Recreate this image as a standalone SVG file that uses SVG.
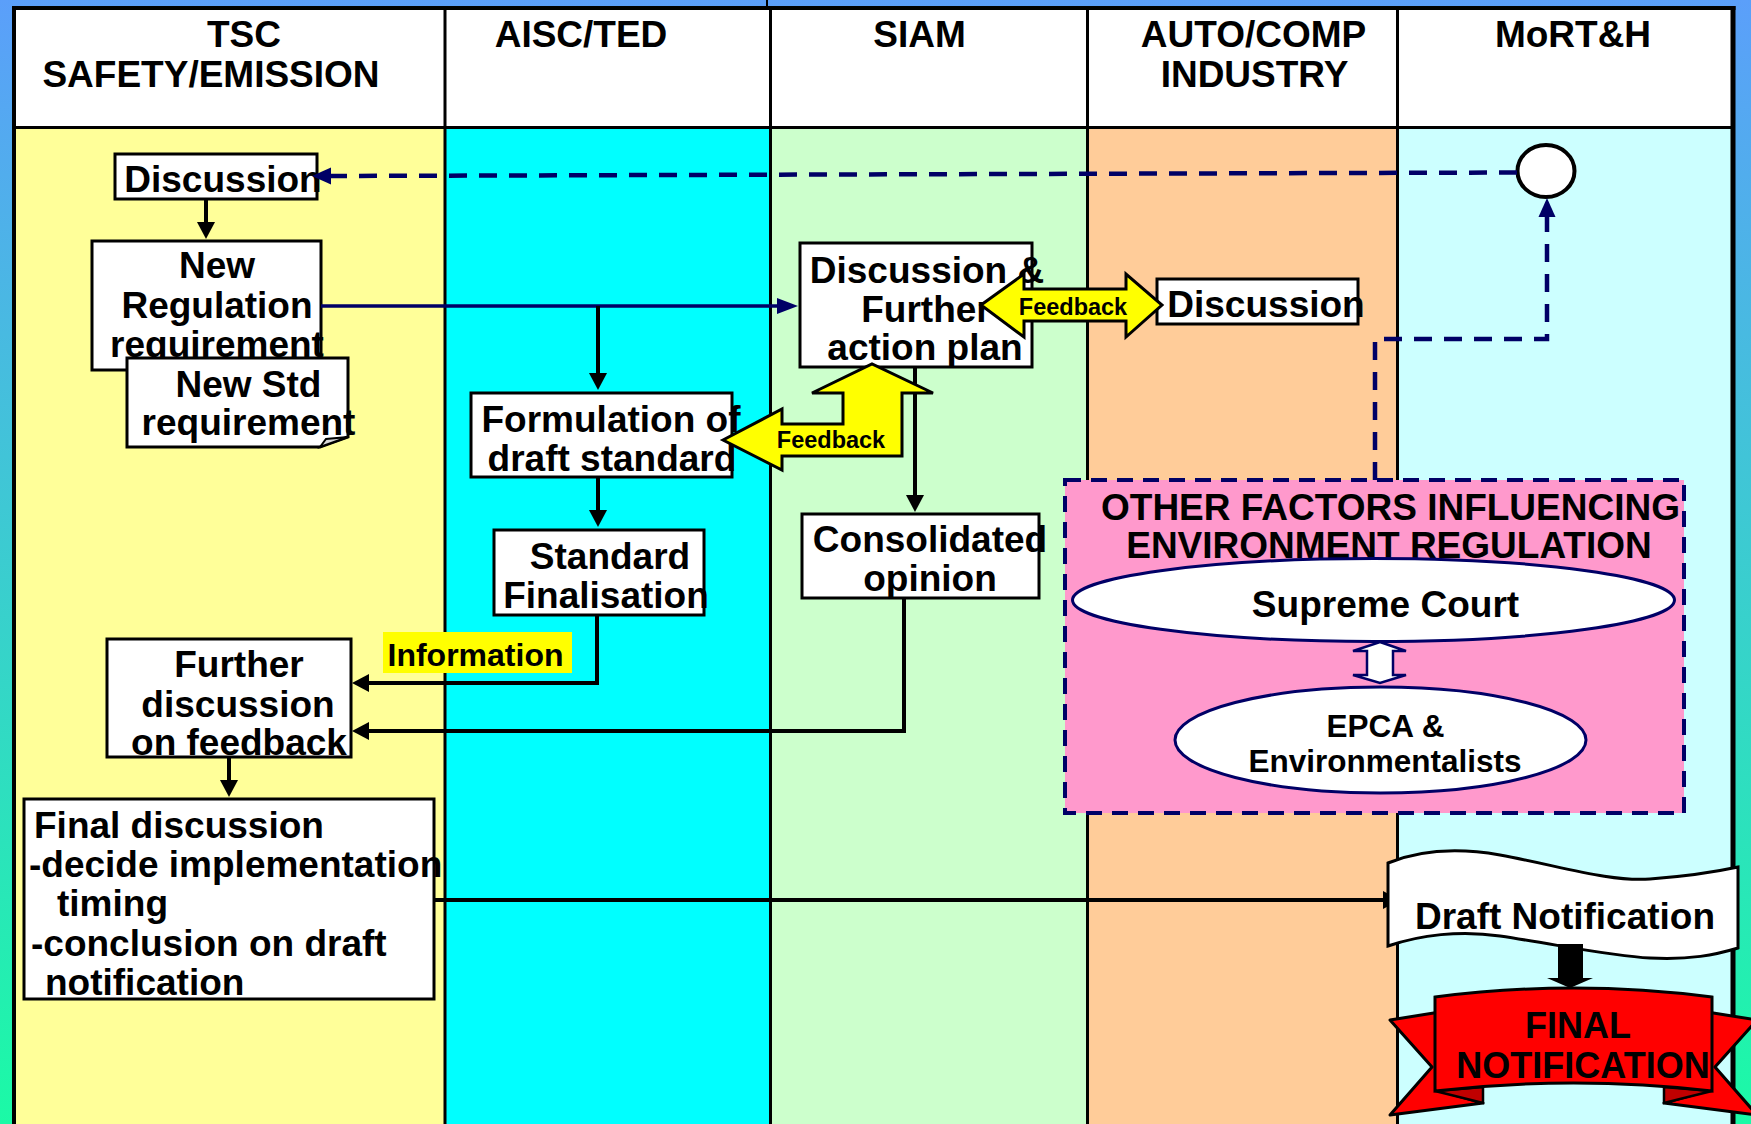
<svg xmlns="http://www.w3.org/2000/svg" width="1751" height="1124" viewBox="0 0 1751 1124">
<defs>
<linearGradient id="bg" x1="0" y1="0" x2="0" y2="1">
<stop offset="0" stop-color="#5b9ffa"/>
<stop offset="1" stop-color="#1bfaa6"/>
</linearGradient>
<marker id="ah" markerUnits="userSpaceOnUse" markerWidth="17" markerHeight="18" refX="0" refY="9" orient="auto" overflow="visible"><path d="M0,0 L17,9 L0,18 Z" fill="#000"/></marker>
<marker id="ahn" markerUnits="userSpaceOnUse" markerWidth="21" markerHeight="16" refX="0" refY="8" orient="auto" overflow="visible"><path d="M0,0 L21,8 L0,16 Z" fill="#000066"/></marker>
<marker id="ahd" markerUnits="userSpaceOnUse" markerWidth="19" markerHeight="17" refX="0" refY="8.5" orient="auto" overflow="visible"><path d="M0,0 L19,8.5 L0,17 Z" fill="#000066"/></marker>
<style>
.t{font-family:"Liberation Sans",Arial,Helvetica,sans-serif;font-weight:bold;font-size:37px;fill:#000;text-anchor:middle}
.l{text-anchor:start}
.fb{font-size:23.5px}
.box{fill:#fff;stroke:#000;stroke-width:3}
.conn{fill:none;stroke:#000;stroke-width:4}
.nav{fill:none;stroke:#000066;stroke-width:3.5}
.dash{fill:none;stroke:#000066;stroke-width:4.5;stroke-dasharray:18 12}
.ya{fill:#ffff00;stroke:#000;stroke-width:3;stroke-linejoin:miter}
.div{stroke:#000;stroke-width:3}
</style>
</defs>

<rect x="0" y="0" width="1751" height="1124" fill="url(#bg)"/>
<line x1="767" y1="0" x2="767" y2="7" stroke="#000" stroke-width="2"/>

<g id="lanes">
<rect x="14" y="8" width="1719" height="120" fill="#fff"/>
<rect x="14" y="127" width="431" height="997" fill="#ffff99"/>
<rect x="445" y="127" width="325.5" height="997" fill="#00ffff"/>
<rect x="770.5" y="127" width="317" height="997" fill="#ccffcc"/>
<rect x="1087.5" y="127" width="310" height="997" fill="#ffcc99"/>
<rect x="1397.5" y="127" width="335.5" height="997" fill="#ccffff"/>
<line class="div" x1="14" y1="127.5" x2="1733" y2="127.5"/>
<line class="div" x1="445" y1="8" x2="445" y2="1124"/>
<line class="div" x1="770.5" y1="8" x2="770.5" y2="1124"/>
<line class="div" x1="1087.5" y1="8" x2="1087.5" y2="1124"/>
<line class="div" x1="1397.5" y1="8" x2="1397.5" y2="1124"/>
<line x1="12" y1="8" x2="1735.5" y2="8" stroke="#000" stroke-width="4"/>
<line x1="14" y1="6" x2="14" y2="1124" stroke="#000" stroke-width="4"/>
<line x1="1733" y1="6" x2="1733" y2="1124" stroke="#000" stroke-width="5"/>
</g>

<g id="header">
<text class="t" x="244" y="47">TSC</text>
<text class="t" x="211" y="87">SAFETY/EMISSION</text>
<text class="t" x="581" y="47">AISC/TED</text>
<text class="t" x="919.5" y="47">SIAM</text>
<text class="t" x="1253.5" y="47">AUTO/COMP</text>
<text class="t" x="1254.5" y="87">INDUSTRY</text>
<text class="t" x="1573" y="47">MoRT&amp;H</text>
</g>

<g id="other-factors">
<rect x="1065" y="480" width="619" height="333" fill="#ff99cc" stroke="#000066" stroke-width="4" stroke-dasharray="16 10"/>
<text class="t" x="1390.5" y="520">OTHER FACTORS INFLUENCING</text>
<text class="t" x="1389" y="558">ENVIRONMENT REGULATION</text>
</g>
<g id="supreme-court">
<ellipse cx="1373.5" cy="600" rx="301" ry="41.5" fill="#fff" stroke="#000066" stroke-width="3"/>
<text class="t" x="1385.5" y="617">Supreme Court</text>
</g>
<g id="sc-epca-link">
<path d="M1380,642 L1406,651 L1393,651 L1393,675 L1406,675 L1380,683 L1353,675 L1367,675 L1367,651 L1353,651 Z" fill="#fff" stroke="#000066" stroke-width="2.5"/>
</g>
<g id="epca">
<ellipse cx="1380.5" cy="740" rx="205.5" ry="53" fill="#fff" stroke="#000066" stroke-width="3"/>
<text class="t" x="1385.5" y="737" style="font-size:31.5px">EPCA &amp;</text>
<text class="t" x="1385" y="772" style="font-size:31.5px">Environmentalists</text>
</g>

<g id="tsc-discussion">
<rect class="box" x="115" y="154" width="202" height="45"/>
<text class="t" x="223" y="192">Discussion</text>
</g>
<g id="new-regulation">
<rect class="box" x="92" y="241" width="229" height="129"/>
<text class="t" x="217" y="278">New</text>
<text class="t" x="217" y="318">Regulation</text>
<text class="t" x="217" y="357">requirement</text>
</g>
<g id="new-std">
<path class="box" d="M127,358 H348 V437 L320,447 H127 Z"/>
<path d="M320,447 L326,439 L348,437 Z" fill="#d9d9d9" stroke="#000" stroke-width="2"/>
<text class="t" x="248.5" y="397">New Std</text>
<text class="t" x="248.5" y="435">requirement</text>
</g>
<g id="formulation">
<rect class="box" x="471" y="393" width="261" height="84"/>
<text class="t" x="611" y="432">Formulation of</text>
<text class="t" x="612" y="471">draft standard</text>
</g>
<g id="standard-finalisation">
<rect class="box" x="494" y="530" width="210" height="85"/>
<text class="t" x="610" y="569">Standard</text>
<text class="t" x="606" y="608">Finalisation</text>
</g>
<g id="siam-discussion">
<rect class="box" x="800" y="243" width="232" height="124"/>
<text class="t" x="927" y="283">Discussion &amp;</text>
<text class="t" x="926" y="322">Further</text>
<text class="t" x="925" y="360">action plan</text>
</g>
<g id="consolidated">
<rect class="box" x="802" y="514" width="237" height="84"/>
<text class="t" x="930" y="552">Consolidated</text>
<text class="t" x="930" y="591">opinion</text>
</g>
<g id="industry-discussion">
<rect class="box" x="1157" y="279" width="201" height="45"/>
<text class="t" x="1266" y="317">Discussion</text>
</g>
<g id="mort-start">
<ellipse cx="1546" cy="171" rx="28.5" ry="26" fill="#fff" stroke="#000" stroke-width="4"/>
</g>
<g id="further-discussion">
<rect class="box" x="107" y="639" width="244" height="118"/>
<text class="t" x="239" y="677">Further</text>
<text class="t" x="238" y="717">discussion</text>
<text class="t" x="239" y="755">on feedback</text>
</g>
<g id="final-discussion">
<rect class="box" x="24" y="799" width="410" height="200"/>
<text class="t l" x="34" y="838">Final discussion</text>
<text class="t l" x="29" y="877">-decide implementation</text>
<text class="t l" x="57" y="916">timing</text>
<text class="t l" x="31" y="956">-conclusion on draft</text>
<text class="t l" x="45" y="995">notification</text>
</g>
<g id="information-label">
<rect x="383" y="632" width="189" height="41" fill="#ffff00"/>
<text class="t" x="475.5" y="666" style="font-size:32px">Information</text>
</g>

<g id="connectors">
<path class="conn" d="M206,199 V222" marker-end="url(#ah)"/>
<path class="nav" d="M321,306 H777" marker-end="url(#ahn)"/>
<path class="conn" d="M598,306 V373" marker-end="url(#ah)"/>
<path class="conn" d="M598,477 V510" marker-end="url(#ah)"/>
<path class="conn" d="M597,615 V683 H369" marker-end="url(#ah)"/>
<path class="conn" d="M915,367 V495" marker-end="url(#ah)"/>
<path class="conn" d="M904,598 V731 H369" marker-end="url(#ah)"/>
<path class="conn" d="M229,757 V780" marker-end="url(#ah)"/>
<path class="conn" d="M434,900 H1383" marker-end="url(#ah)"/>
<path class="dash" d="M1517,172.5 L331,176" marker-end="url(#ahd)"/>
<path class="dash" d="M1375,480 V339 H1547 V217" marker-end="url(#ahd)"/>
</g>

<g id="feedback-arrows">
<path class="ya" d="M981,305 L1024,274 L1024,289 L1126,289 L1126,274 L1162,305 L1126,337 L1126,321 L1024,321 L1024,337 Z"/>
<text class="t fb" x="1073" y="315">Feedback</text>
<path class="ya" d="M723,440 L782,409 L782,424 L843,424 L843,393 L812,393 L872,364 L933,393 L902,393 L902,456 L782,456 L782,470 Z"/>
<text class="t fb" x="831" y="448">Feedback</text>
</g>

<g id="draft-notification">
<path d="M1388,863 C1420,850 1460,848 1500,855 C1560,866 1610,882 1650,879 C1690,876 1715,872 1738,867 L1738,948 C1715,955 1690,960 1650,958 C1610,956 1560,945 1500,936 C1460,930 1420,935 1388,946 Z" fill="#fff" stroke="#000" stroke-width="3"/>
<text class="t" x="1565" y="929">Draft Notification</text>
</g>
<g id="draft-to-final">
<path d="M1558,944 H1583 V978 H1593 L1570,988 L1547,978 H1558 Z" fill="#000"/>
</g>
<g id="final-notification">
<path d="M1390,1020 L1440,1012 L1440,1091 L1483,1103 L1390,1115 L1432,1067 Z" fill="#ff0000" stroke="#000" stroke-width="3" stroke-linejoin="round"/>
<path d="M1757,1020 L1707,1012 L1707,1091 L1664,1103 L1757,1115 L1715,1067 Z" fill="#ff0000" stroke="#000" stroke-width="3" stroke-linejoin="round"/>
<path d="M1435,1091 L1483,1087 L1483,1103 Z" fill="#c00000" stroke="#000" stroke-width="2.5"/>
<path d="M1712,1091 L1664,1087 L1664,1103 Z" fill="#c00000" stroke="#000" stroke-width="2.5"/>
<path d="M1435,997 Q1573.5,979 1712,997 L1712,1091 Q1573.5,1075 1435,1091 Z" fill="#ff0000" stroke="#000" stroke-width="3"/>
<text class="t" x="1578" y="1038" style="font-size:36px">FINAL</text>
<text class="t" x="1583" y="1078" style="font-size:36px">NOTIFICATION</text>
</g>
</svg>
